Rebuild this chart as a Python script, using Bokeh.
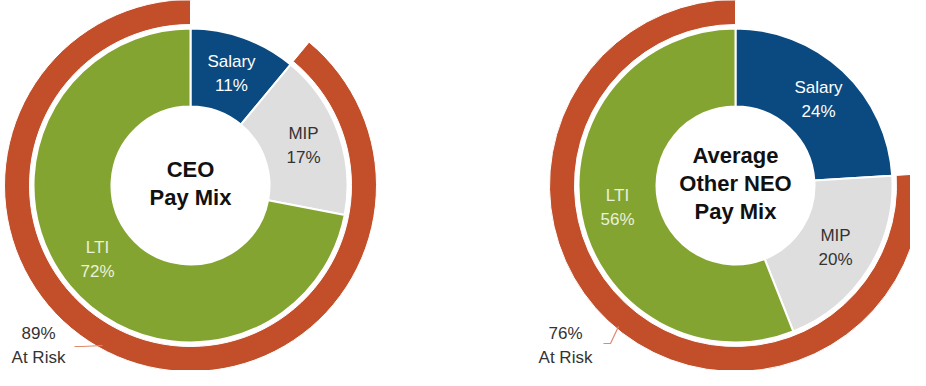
import numpy as np
from bokeh.plotting import figure
from bokeh.models import Range1d
from bokeh.embed import file_html
from bokeh.resources import INLINE
from bokeh.core.properties import value

# ---- data ----
components = ["Salary", "MIP", "LTI"]
ceo_values = [11, 17, 72]
neo_values = [24, 20, 56]
ceo_at_risk = 89
neo_at_risk = 76
ceo_title = "CEO\nPay Mix"
neo_title = "Average\nOther NEO\nPay Mix"

# ---- style ----
colors = ["#0B4A80", "#DEDEDE", "#84A431"]
label_colors = ["#FFFFFF", "#333333", "#EAF1DC"]
ring_color = "#C24E2A"
leader_color = "#DE8A6C"
FONT = "Liberation Sans"

H = 386  # image-pixel coordinate space, y flipped
p = figure(width=910, height=370, output_backend="svg", toolbar_location=None,
           x_range=Range1d(0, 910), y_range=Range1d(H - 375, H - 5), min_border=0)
p.axis.visible = False
p.grid.visible = False
p.outline_line_color = None
p.background_fill_color = "white"
p.border_fill_color = "white"


def Y(yi):
    return H - yi


def donut(cx, cy, vals, at_risk, title, label_pos, risk_pos, leader):
    fr = np.cumsum([0] + vals) / 100.0
    starts = np.pi / 2 - 2 * np.pi * fr[:-1]
    ends = np.pi / 2 - 2 * np.pi * fr[1:]
    n = len(vals)
    p.annular_wedge(x=[cx] * n, y=[Y(cy)] * n, inner_radius=79, outer_radius=157,
                    start_angle=list(starts), end_angle=list(ends), direction="clock",
                    fill_color=colors, line_color="white", line_width=2)
    rs = np.pi / 2 - 2 * np.pi * (1 - at_risk / 100.0)
    re = np.pi / 2 - 2 * np.pi * 1.0
    p.annular_wedge(x=[cx], y=[Y(cy)], inner_radius=161, outer_radius=186,
                    start_angle=[rs], end_angle=[re], direction="clock",
                    fill_color=ring_color, line_color="white", line_width=1)
    # segment labels
    p.text(x=[lp[0] for lp in label_pos], y=[Y(lp[1]) for lp in label_pos],
           text=[f"{c}\n{v}%" for c, v in zip(components, vals)],
           text_color=label_colors, text_font=value(FONT), text_font_size="17px",
           text_align="center", text_baseline="middle", text_line_height=1.22)
    # centre title
    p.text(x=[cx], y=[Y(cy - 2)], text=[title], text_color="#111111",
           text_font=value(FONT), text_font_size="22px", text_font_style="bold",
           text_align="center", text_baseline="middle", text_line_height=1.12)
    # at risk label
    p.text(x=[risk_pos[0]], y=[Y(risk_pos[1])], text=[f"{at_risk}%\nAt Risk"],
           text_color="#333333", text_font=value(FONT), text_font_size="17px",
           text_align="center", text_baseline="middle", text_line_height=1.22)
    p.line(x=[q[0] for q in leader], y=[Y(q[1]) for q in leader],
           line_color=leader_color, line_width=1.2)


donut(190, 190, ceo_values, ceo_at_risk, ceo_title,
      [(231, 78), (303, 150), (97, 264)], (38, 350),
      [(74, 351), (82, 351), (102, 350)])
donut(735, 190, neo_values, neo_at_risk, neo_title,
      [(818, 104), (835, 252), (617, 212)], (565, 350),
      [(603, 348), (610, 348), (618, 331)])

open("out.html", "w").write(file_html(p, INLINE))
